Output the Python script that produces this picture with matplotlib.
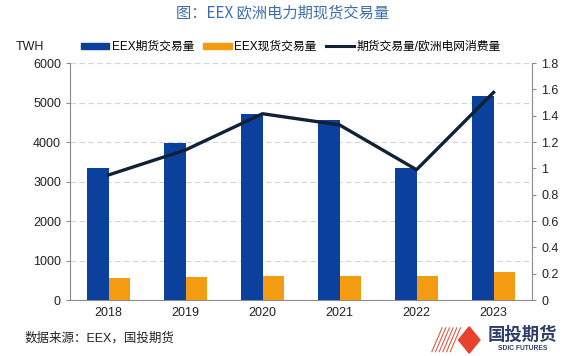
import numpy as np
import matplotlib
matplotlib.use('Agg')
import matplotlib.pyplot as plt
from matplotlib.patches import Polygon
from matplotlib.lines import Line2D

plt.rcParams['font.family'] = ['Liberation Sans', 'Noto Sans CJK SC']

# 数据
years = ['2018', '2019', '2020', '2021', '2022', '2023']
futures = [3334, 3967, 4717, 4549, 3334, 5172]
spot = [565, 582, 608, 616, 599, 709]
ratio = [0.95, 1.14, 1.415, 1.33, 0.99, 1.577]

left_ticks = [0, 1000, 2000, 3000, 4000, 5000, 6000]
right_ticks = [0, 0.2, 0.4, 0.6, 0.8, 1, 1.2, 1.4, 1.6, 1.8]
right_labels = ['0', '0.2', '0.4', '0.6', '0.8', '1', '1.2', '1.4', '1.6', '1.8']

blue = '#0B409C'
orange = '#F39C12'
navy = '#102234'
gray = '#8C8C8C'

fig = plt.figure(figsize=(5.66, 3.56), dpi=100)
ax = fig.add_axes([0.1237, 0.157, 0.8163, 0.666])
ax2 = ax.twinx()

x = np.arange(len(years))
w = 0.285
ax.bar(x - w / 2, futures, width=w, color=blue, zorder=3)
ax.bar(x + w / 2, spot, width=w, color=orange, zorder=3)
ax2.plot(x, ratio, color=navy, linewidth=2.4, zorder=4)

ax.set_xlim(-0.5, 5.5)
ax.set_ylim(0, 6000)
ax2.set_ylim(0, 1.8)
ax.set_xticks(x)
ax.set_xticklabels(years)
ax.set_yticks(left_ticks)
ax2.set_yticks(right_ticks)
ax2.set_yticklabels(right_labels)

ax.yaxis.grid(True, linestyle=(0, (5, 3)), color='#D4D4D4', linewidth=0.8, zorder=0)
ax.set_axisbelow(True)

for a in (ax, ax2):
    a.spines['top'].set_visible(False)
    for s in ('left', 'right', 'bottom'):
        a.spines[s].set_color(gray)
        a.spines[s].set_linewidth(0.8)
    a.tick_params(labelsize=9, colors='#222222', length=3, width=0.8)
    a.tick_params(axis='y', color=gray)
ax.spines['right'].set_visible(False)
ax2.spines['left'].set_visible(False)
ax2.spines['bottom'].set_visible(False)
ax.tick_params(axis='x', length=0, pad=5)

# 标题
fig.text(0.5, 0.965, '图：EEX 欧洲电力期现货交易量', ha='center', va='center',
         fontsize=11, color='#3C6EA8', family=['Noto Sans CJK SC'])

# 单位
fig.text(0.028, 0.868, 'TWH', fontsize=9, va='center', color='#222222')

# 图例
handles = [plt.Rectangle((0, 0), 1, 1, color=blue),
           plt.Rectangle((0, 0), 1, 1, color=orange),
           Line2D([0], [0], color=navy, linewidth=2.2)]
labels = ['EEX期货交易量', 'EEX现货交易量', '期货交易量/欧洲电网消费量']
fig.legend(handles, labels, loc='center left', bbox_to_anchor=(0.143, 0.868), ncol=3,
           frameon=False, fontsize=8.5, handlelength=2.4, handleheight=0.4,
           handletextpad=0.2, columnspacing=0.8, borderaxespad=0, borderpad=0)

# 数据来源
fig.text(0.044, 0.048, '数据来源：EEX，国投期货', fontsize=9, va='center', color='#222222')

# 标志
for i in range(6):
    x0 = 0.763 + i * 0.0065
    fig.add_artist(Line2D([x0, x0 + 0.018], [0.012, 0.079], color='#E05A4A',
                          linewidth=0.8, transform=fig.transFigure))
fig.add_artist(Polygon([[0.810, 0.045], [0.829, 0.082], [0.848, 0.045], [0.829, 0.008]],
                       closed=True, color='#E8412E', transform=fig.transFigure))
fig.text(0.923, 0.06, '国投期货', ha='center', va='center', fontsize=12.5,
         fontweight='bold', color='#2E3D6A', family=['Noto Sans CJK SC'])
fig.text(0.923, 0.022, 'SDIC FUTURES', ha='center', va='center', fontsize=4.8,
         fontweight='bold', color='#2E3D6A')

fig.savefig('out.png', dpi=100)
